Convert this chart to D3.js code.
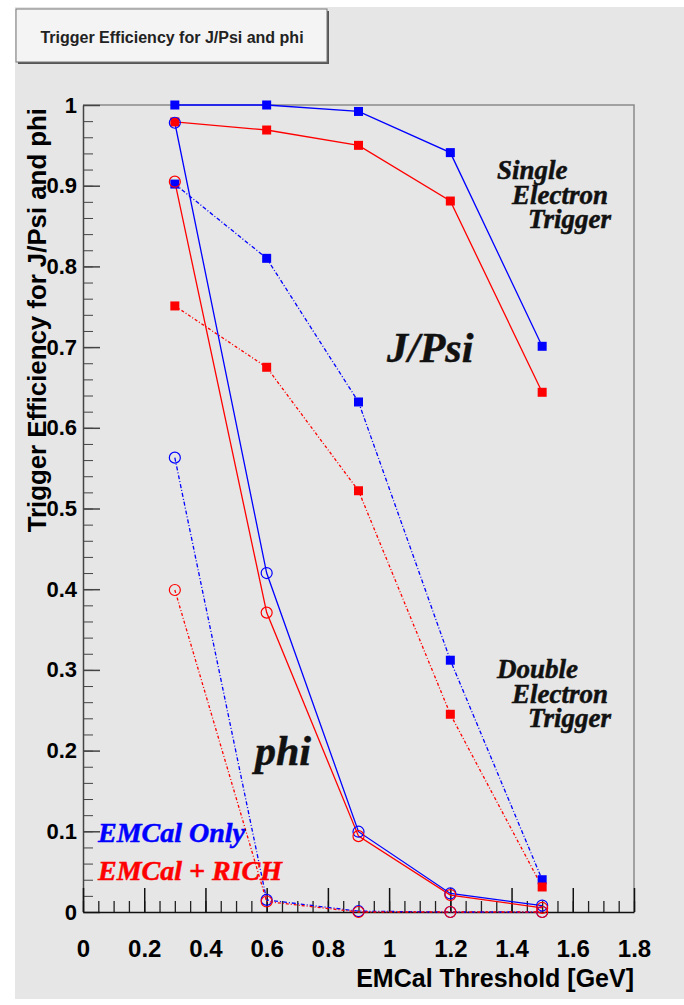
<!DOCTYPE html>
<html>
<head>
<meta charset="utf-8">
<script src="https://cdn.jsdelivr.net/npm/d3@7"></script>
<style>
body { margin: 0; background: #fff; }
text { font-family: "Liberation Sans", Arial, sans-serif; }
.ann { font-family: "Liberation Serif", "Times New Roman", serif; font-style: italic; font-weight: bold; }
</style>
</head>
<body>
<script>

// thresholds [GeV]
var thresholds = [0.3, 0.6, 0.9, 1.2, 1.5];

// J/Psi, squares
var jpsiSingleEmcal = [1.0, 1.0, 0.992, 0.941, 0.701];
var jpsiSingleRich  = [0.979, 0.969, 0.950, 0.881, 0.644];
var jpsiDoubleEmcal = [0.902, 0.810, 0.632, 0.312, 0.040];
var jpsiDoubleRich  = [0.751, 0.675, 0.522, 0.245, 0.031];

// phi, open circles
var phiSingleEmcal = [0.978, 0.420, 0.0995, 0.023, 0.008];
var phiSingleRich  = [0.905, 0.371, 0.094, 0.021, 0.005];
var phiDoubleEmcal = [0.563, 0.015, 0.001, 0.0, 0.0];
var phiDoubleRich  = [0.399, 0.013, 0.0, 0.0, 0.0];

var xTicks = [0, 0.2, 0.4, 0.6, 0.8, 1, 1.2, 1.4, 1.6, 1.8];
var yTicks = [0, 0.1, 0.2, 0.3, 0.4, 0.5, 0.6, 0.7, 0.8, 0.9, 1];

var width = 684, height = 1005;
var plotLeft = 83, plotRight = 634, plotTop = 105, plotBottom = 912;

var blue = "#0000ff", red = "#ff0000";

var svg = d3.select("body").append("svg")
  .attr("width", width)
  .attr("height", height);

// canvas
svg.append("rect")
  .attr("x", 15).attr("y", 7)
  .attr("width", width - 15).attr("height", 992)
  .style("fill", "#e6e6e6");

// title box with shadow
svg.append("rect")
  .attr("x", 18).attr("y", 11)
  .attr("width", 311).attr("height", 53)
  .style("fill", "#555");
svg.append("rect")
  .attr("x", 16).attr("y", 9)
  .attr("width", 311).attr("height", 53)
  .style("fill", "#f4f4f4")
  .style("stroke", "#777")
  .style("stroke-width", 1);
svg.append("text")
  .attr("x", 172).attr("y", 43)
  .attr("text-anchor", "middle")
  .style("font-size", "16px")
  .style("font-weight", "bold")
  .style("fill", "#222")
  .text("Trigger Efficiency for J/Psi and phi");

var x = d3.scaleLinear().domain([0, 1.8]).range([plotLeft, plotRight]);
var y = d3.scaleLinear().domain([0, 1]).range([plotBottom, plotTop]);

// frame top and right
svg.append("path")
  .attr("d", "M" + plotLeft + "," + plotTop + "H" + plotRight + "V" + plotBottom)
  .style("fill", "none")
  .style("stroke", "#8a8a8a")
  .style("stroke-width", 1.5);

var fmt = function (d) { return String(+d.toFixed(2)); };

// y axis
var yMinor = d3.range(0, 1.0001, 0.02);
svg.append("g")
  .attr("transform", "translate(" + plotLeft + ",0)")
  .call(d3.axisLeft(y).tickValues(yMinor).tickSize(-10).tickSizeOuter(0).tickFormat(""))
  .call(function (g) { g.select(".domain").remove(); })
  .selectAll("line").style("stroke", "#444");

var yAxis = svg.append("g")
  .attr("transform", "translate(" + plotLeft + ",0)")
  .call(d3.axisLeft(y).tickValues(yTicks).tickSize(-17).tickSizeOuter(0).tickPadding(6).tickFormat(fmt));
yAxis.select(".domain").style("stroke", "#444").style("stroke-width", 1.5);
yAxis.selectAll("line").style("stroke", "#444").style("stroke-width", 1.5);
yAxis.selectAll("text")
  .style("font-family", "Liberation Sans, Arial, sans-serif")
  .style("font-size", "22px")
  .style("font-weight", "bold")
  .style("fill", "#000");

// x axis
var xMinor = d3.range(0, 1.8001, 0.05);
svg.append("g")
  .attr("transform", "translate(0," + plotBottom + ")")
  .call(d3.axisBottom(x).tickValues(xMinor).tickSize(-11).tickSizeOuter(0).tickFormat(""))
  .call(function (g) { g.select(".domain").remove(); })
  .selectAll("line").style("stroke", "#222").style("stroke-width", 1.3);

var xAxis = svg.append("g")
  .attr("transform", "translate(0," + plotBottom + ")")
  .call(d3.axisBottom(x).tickValues(xTicks).tickSize(-24).tickSizeOuter(0).tickPadding(28).tickFormat(fmt));
xAxis.select(".domain").style("stroke", "#111").style("stroke-width", 1.5);
xAxis.selectAll("line").style("stroke", "#111").style("stroke-width", 1.5);
xAxis.selectAll("text")
  .style("font-family", "Liberation Sans, Arial, sans-serif")
  .style("font-size", "24px")
  .style("font-weight", "bold")
  .style("fill", "#000");

// axis titles
svg.append("text")
  .attr("text-anchor", "end")
  .attr("transform", "translate(46,108) rotate(-90)")
  .style("font-size", "25.8px")
  .style("font-weight", "bold")
  .style("fill", "#000")
  .text("Trigger Efficiency for J/Psi and phi");

svg.append("text")
  .attr("x", plotRight).attr("y", 987)
  .attr("text-anchor", "end")
  .style("font-size", "25px")
  .style("font-weight", "bold")
  .style("fill", "#000")
  .text("EMCal Threshold [GeV]");

// curves
var curves = [
  { v: jpsiSingleEmcal, c: blue, dash: null, m: "sq" },
  { v: jpsiDoubleEmcal, c: blue, dash: "4,2,1,2", m: "sq" },
  { v: jpsiSingleRich,  c: red,  dash: null, m: "sq" },
  { v: jpsiDoubleRich,  c: red,  dash: "3,2,1,2", m: "sq" },
  { v: phiSingleEmcal,  c: blue, dash: null, m: "ci" },
  { v: phiDoubleEmcal,  c: blue, dash: "4,2,1,2", m: "ci" },
  { v: phiSingleRich,   c: red,  dash: null, m: "ci" },
  { v: phiDoubleRich,   c: red,  dash: "3,2,1,2", m: "ci" }
];

var line = d3.line()
  .x(function (d, i) { return x(thresholds[i]); })
  .y(function (d) { return y(d); });

curves.forEach(function (cv) {
  svg.append("path")
    .datum(cv.v)
    .attr("d", line)
    .style("fill", "none")
    .style("stroke", cv.c)
    .style("stroke-width", 1.3)
    .style("stroke-dasharray", cv.dash);
});

curves.filter(function (cv) { return cv.m == "sq"; }).forEach(function (cv) {
  svg.append("g").selectAll("path")
    .data(cv.v)
    .enter().append("path")
    .attr("transform", function (d, i) { return "translate(" + x(thresholds[i]) + "," + y(d) + ")"; })
    .attr("d", d3.symbol().type(d3.symbolSquare).size(81))
    .style("fill", cv.c);
});

curves.filter(function (cv) { return cv.m == "ci"; }).forEach(function (cv) {
  svg.append("g").selectAll("circle")
    .data(cv.v)
    .enter().append("circle")
    .attr("cx", function (d, i) { return x(thresholds[i]); })
    .attr("cy", function (d) { return y(d); })
    .attr("r", 5.5)
    .style("fill", "none")
    .style("stroke", cv.c)
    .style("stroke-width", 1.2);
});

// annotations
function ann(tx, ty, size, col, str) {
  svg.append("text")
    .attr("class", "ann")
    .attr("x", tx).attr("y", ty)
    .style("font-size", size + "px")
    .style("fill", col)
    .style("stroke", col)
    .style("stroke-width", 0.5)
    .text(str);
}

ann(497, 179, 27, "#111", "Single");
ann(512, 204, 27, "#111", "Electron");
ann(528, 228, 27, "#111", "Trigger");

ann(497, 678, 27, "#111", "Double");
ann(512, 703, 27, "#111", "Electron");
ann(528, 727, 27, "#111", "Trigger");

ann(387, 362, 42, "#111", "J/Psi");
ann(255, 765, 42, "#111", "phi");

ann(98, 842, 28, blue, "EMCal Only");
ann(98, 880, 28, red, "EMCal + RICH");

</script>
</body>
</html>
